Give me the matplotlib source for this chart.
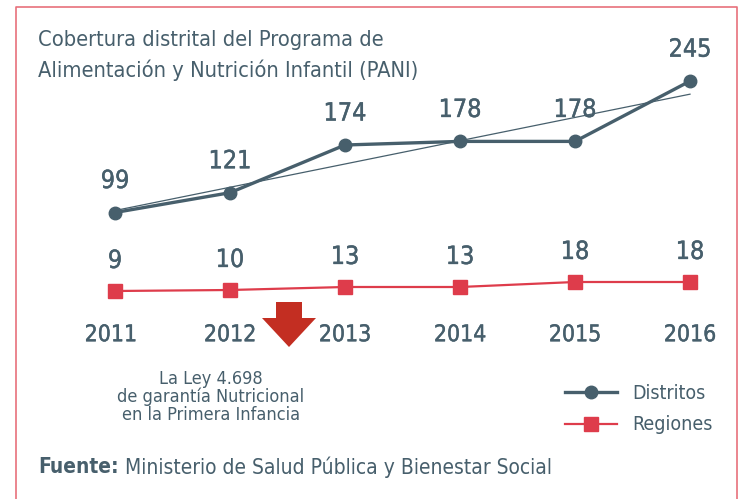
import numpy as np
import matplotlib
matplotlib.use("Agg")
import matplotlib.pyplot as plt
import matplotlib.patheffects as pe
from matplotlib.patches import Polygon

plt.rcParams['font.family'] = ['DejaVu Sans']
plt.rcParams['font.stretch'] = 'condensed'

years = [2011, 2012, 2013, 2014, 2015, 2016]
distritos = [99, 121, 174, 178, 178, 245]
regiones = [9, 10, 13, 13, 18, 18]

SLATE = '#475f6c'
RED = '#de3c4b'
ARROW = '#c32e22'
BORDER = '#e7717b'
thick = [pe.withStroke(linewidth=0.3, foreground=SLATE)]

W, H = 754, 499
fig = plt.figure(figsize=(W / 100, H / 100), dpi=100)

# pixel overlay for frame, title, arrow, notes
deco = fig.add_axes([0, 0, 1, 1])
deco.set_xlim(0, W)
deco.set_ylim(H, 0)
deco.axis('off')

# 2011 sits at px 115, 2016 at px 690
x0, x1 = 60, 745
xlim = (2011 + (x0 - 115) / 115, 2011 + (x1 - 115) / 115)

def px_axes(top, bottom):
    return fig.add_axes([x0 / W, 1 - bottom / H, (x1 - x0) / W, (bottom - top) / H])

# Distritos
ax_d = px_axes(60, 230)
ax_d.set_xlim(*xlim)
ax_d.set_ylim(174 - 85 / 0.9, 174 + 85 / 0.9)
ax_d.axis('off')
ln_d, = ax_d.plot(years, distritos, color=SLATE, lw=2.4, marker='o', ms=9,
                  clip_on=False, zorder=3, label='Distritos')
coef = np.polyfit(years, distritos, 1)
ax_d.plot(years, np.polyval(coef, years), color=SLATE, lw=0.9, clip_on=False, zorder=2)
for x, v in zip(years, distritos):
    ax_d.annotate(str(v), (x, v), xytext=(0, 14), textcoords='offset points',
                  ha='center', va='bottom', fontsize=18, color=SLATE, path_effects=thick)

# Regiones
ax_r = px_axes(270, 300)
ax_r.set_xlim(*xlim)
ax_r.set_ylim(0, 30)
ax_r.axis('off')
ln_r, = ax_r.plot(years, regiones, color=RED, lw=1.6, marker='s', ms=10,
                  clip_on=False, zorder=3, label='Regiones')
for x, v in zip(years, regiones):
    ax_r.annotate(str(v), (x, v), xytext=(0, 13), textcoords='offset points',
                  ha='center', va='bottom', fontsize=18, color=SLATE, path_effects=thick)

# year labels
for x in years:
    ax_r.annotate(str(x), (x, 0), xytext=(-3 if x == 2011 else 0, -25),
                  textcoords='offset points', ha='center', va='center',
                  fontsize=16.5, color=SLATE, path_effects=thick)

deco.plot([16, 16, 737, 737], [H + 5, 7, 7, H + 5], color=BORDER, lw=1.2, clip_on=False)

deco.text(38, 40, 'Cobertura distrital del Programa de', fontsize=15.7, color=SLATE,
          ha='left', va='center')
deco.text(38, 70, 'Alimentación y Nutrición Infantil (PANI)', fontsize=15.7, color=SLATE,
          ha='left', va='center')

deco.add_patch(Polygon([(276, 302), (302, 302), (302, 318), (316, 318), (289, 347),
                        (262, 318), (276, 318)], closed=True, color=ARROW, lw=0))

deco.text(211, 397, 'La Ley 4.698\nde garantía Nutricional\nen la Primera Infancia',
          fontsize=13, color=SLATE, ha='center', va='center', linespacing=0.95)

leg = fig.legend(handles=[ln_d, ln_r], loc='center left',
                 bbox_to_anchor=(547 / W, 1 - 409 / H), frameon=False,
                 fontsize=14, handlelength=2.7, labelcolor=SLATE,
                 labelspacing=0.65, handletextpad=0.8)

t = deco.text(38, 467, 'Fuente:', fontsize=15, color=SLATE, fontweight='bold',
              ha='left', va='center')
deco.annotate(' Ministerio de Salud Pública y Bienestar Social', (1, 0.5),
              xycoords=t, ha='left', va='center', fontsize=15, color=SLATE)

fig.savefig('out.png', dpi=100)
